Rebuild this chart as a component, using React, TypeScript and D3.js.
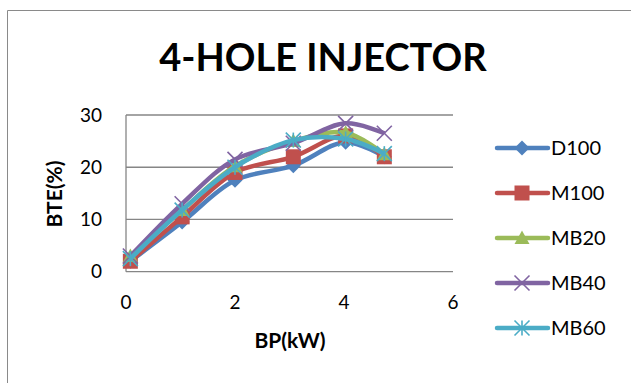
import React from "react";
import * as d3 from "d3";

// Brake power (kW) and brake thermal efficiency (%) per fuel blend
const bp = [0.08, 1.03, 2.0, 3.07, 4.03, 4.74];
const d100 = [2.0, 9.5, 17.5, 20.3, 24.8, 22.0];
const m100 = [2.0, 10.5, 19.0, 22.0, 26.0, 22.0];
const mb20 = [3.0, 11.8, 20.2, 25.0, 26.6, 22.5];
const mb40 = [3.0, 13.0, 21.5, 24.6, 28.4, 26.5];
const mb60 = [2.5, 11.8, 20.0, 25.2, 25.4, 22.6];

const seriesNames = ["D100", "M100", "MB20", "MB40", "MB60"];
const seriesValues = [d100, m100, mb20, mb40, mb60];
const seriesColors = ["#4F81BD", "#C0504D", "#9BBB59", "#8064A2", "#4BACC6"];
const markerKinds = ["diamond", "square", "triangle", "x", "star"];

const xTicks = [0, 2, 4, 6];
const yTicks = [0, 10, 20, 30];

const W = 631;
const H = 383;
const FONT = "Lato, 'Open Sans', sans-serif";

function Marker({ kind, x, y, color }: { kind: string; x: number; y: number; color: string }) {
  const s = 7.5;
  if (kind === "diamond") {
    return <path d={`M${x},${y - s}L${x + s},${y}L${x},${y + s}L${x - s},${y}Z`} fill={color} />;
  }
  if (kind === "square") {
    return <rect x={x - s} y={y - s} width={2 * s} height={2 * s} fill={color} />;
  }
  if (kind === "triangle") {
    return <path d={`M${x},${y - s}L${x + s},${y + s * 0.8}L${x - s},${y + s * 0.8}Z`} fill={color} />;
  }
  if (kind === "x") {
    return (
      <g stroke={color} strokeWidth={1.6}>
        <line x1={x - s} y1={y - s} x2={x + s} y2={y + s} />
        <line x1={x - s} y1={y + s} x2={x + s} y2={y - s} />
      </g>
    );
  }
  return (
    <g stroke={color} strokeWidth={1.6}>
      <line x1={x - s} y1={y - s} x2={x + s} y2={y + s} />
      <line x1={x - s} y1={y + s} x2={x + s} y2={y - s} />
      <line x1={x} y1={y - s} x2={x} y2={y + s} />
    </g>
  );
}

export default function App() {
  const x = d3.scaleLinear().domain([0, 6]).range([126, 453]);
  const y = d3.scaleLinear().domain([0, 30]).range([271.7, 115]);
  const line = d3
    .line<[number, number]>()
    .x((d) => x(d[0]))
    .y((d) => y(d[1]))
    .curve(d3.curveCatmullRom.alpha(0.5));

  const legendY = d3.scalePoint<string>().domain(seriesNames).range([148, 328]);

  return (
    <svg
      width={W}
      height={H}
      style={{ position: "absolute", left: 0, top: 0, background: "#fff" }}
      fontFamily={FONT}
    >
      <rect x={0} y={0} width={W} height={H} fill="#fff" />
      {/* chart frame */}
      <path d={`M7.5,${H}V10.5H${W}`} fill="none" stroke="#8a8a8a" strokeWidth={1} />

      <text x={323} y={71} textAnchor="middle" fontSize={38} fontWeight="bold" fill="#000">
        4-HOLE INJECTOR
      </text>

      {/* gridlines */}
      {yTicks.map((t) => (
        <line key={t} x1={x(0)} x2={x(6)} y1={y(t)} y2={y(t)} stroke="#868686" strokeWidth={1.3} />
      ))}
      <line x1={x(0)} x2={x(0)} y1={y(30)} y2={y(0)} stroke="#868686" strokeWidth={1.3} />

      {yTicks.map((t) => (
        <text key={t} x={102} y={y(t)} dy="0.35em" textAnchor="end" fontSize={19} fill="#000">
          {t}
        </text>
      ))}
      {xTicks.map((t) => (
        <text key={t} x={x(t)} y={302} dy="0.35em" textAnchor="middle" fontSize={19} fill="#000">
          {t}
        </text>
      ))}

      <text x={290} y={341} dy="0.35em" textAnchor="middle" fontSize={21} fontWeight="bold">
        BP(kW)
      </text>
      <text
        transform="translate(55,194) rotate(-90)"
        dy="0.35em"
        textAnchor="middle"
        fontSize={21}
        fontWeight="bold"
      >
        BTE(%)
      </text>

      {seriesValues.map((vals, i) => {
        const pts = bp.map((b, j) => [b, vals[j]] as [number, number]);
        return (
          <g key={seriesNames[i]}>
            <path d={line(pts) ?? ""} fill="none" stroke={seriesColors[i]} strokeWidth={4.5} strokeLinejoin="round" />
            {pts.map((p, j) => (
              <Marker key={j} kind={markerKinds[i]} x={x(p[0])} y={y(p[1])} color={seriesColors[i]} />
            ))}
          </g>
        );
      })}

      {seriesNames.map((name, i) => {
        const ly = legendY(name) ?? 0;
        return (
          <g key={name}>
            <line x1={497} x2={548} y1={ly} y2={ly} stroke={seriesColors[i]} strokeWidth={4.5} strokeLinecap="round" />
            <Marker kind={markerKinds[i]} x={522} y={ly} color={seriesColors[i]} />
            <text x={551} y={ly} dy="0.35em" fontSize={20} fill="#000">
              {name}
            </text>
          </g>
        );
      })}
    </svg>
  );
}
